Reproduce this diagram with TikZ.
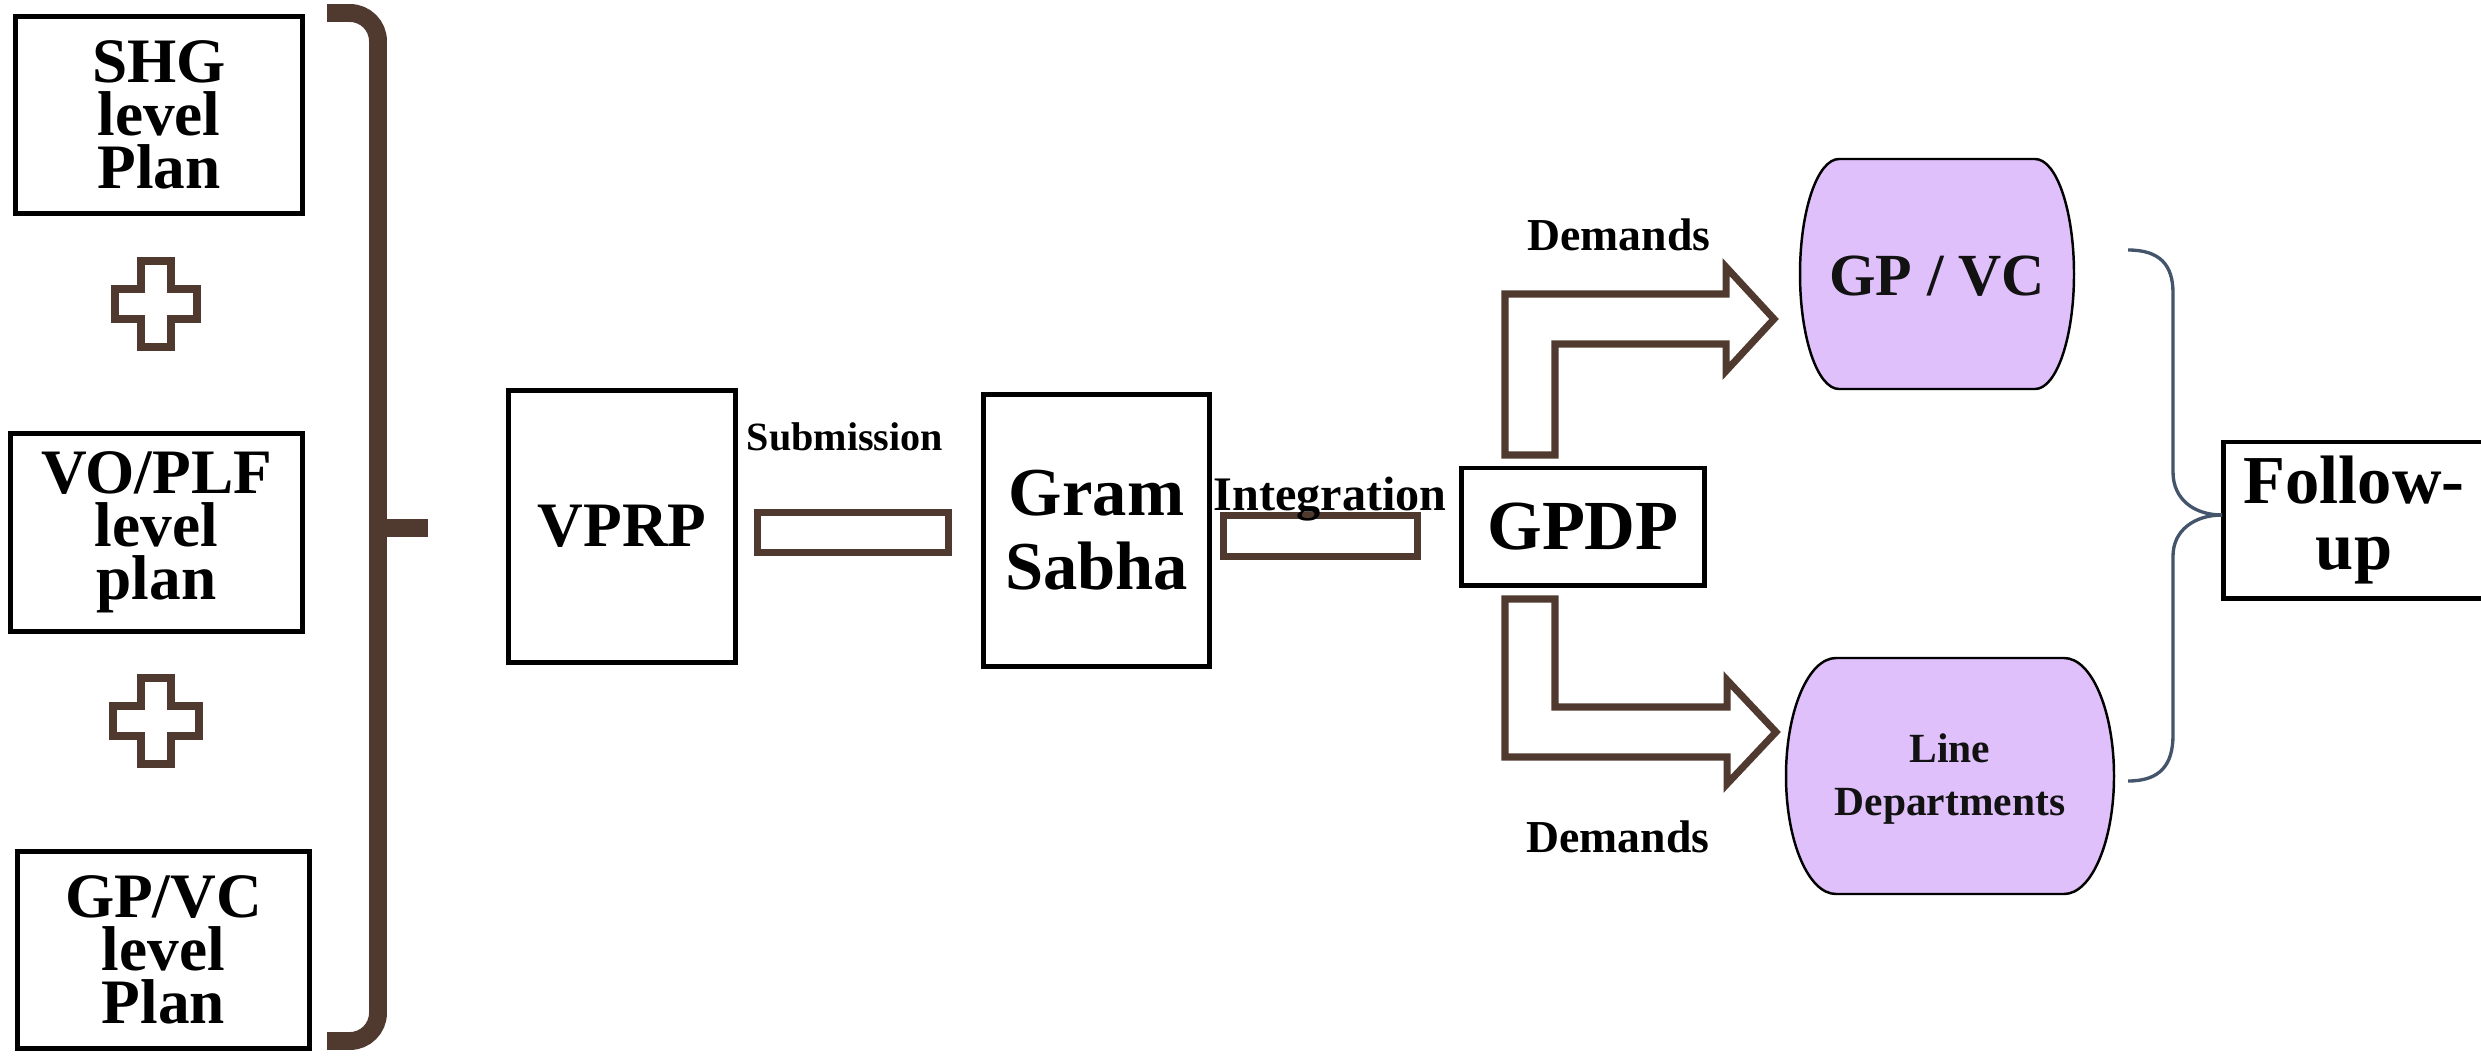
\documentclass[tikz,border=0pt]{standalone}
\usepackage{fontspec}
\setmainfont{Liberation Serif}
\usepackage{tikz}

\definecolor{planbrown}{RGB}{80,58,47}
\definecolor{demandlilac}{RGB}{223,192,250}
\definecolor{braceslate}{RGB}{68,84,106}

\begin{document}
\begin{tikzpicture}[x=0.01cm,y=-0.01cm,
        bar/.style={draw=planbrown,line width=2pt,inner sep=0pt},
        label/.style={anchor=base,inner sep=0pt,font=\bfseries\fontsize{13}{15}\selectfont},
        blockarrow/.style={draw=planbrown,line width=2pt,fill=white}]
            \useasboundingbox (0,0) rectangle (2481,1057);

            \begin{scope}[every node/.style={draw=black,line width=1.4pt,align=center,inner sep=0pt}]
                \node[minimum width=2.86cm,minimum height=1.96cm,font=\bfseries\fontsize{18}{15}\selectfont] (shg) at (159,115) {SHG\\level\\Plan};
                \node[minimum width=2.91cm,minimum height=1.97cm,font=\bfseries\fontsize{18}{15}\selectfont] (vo) at (156.5,532.5) {VO/PLF\\level\\plan};
                \node[minimum width=2.91cm,minimum height=1.96cm,font=\bfseries\fontsize{18}{15}\selectfont] (gplevel) at (163.5,950) {GP/VC\\level\\Plan};

                \node[minimum width=2.26cm,minimum height=2.71cm,font=\bfseries\fontsize{18}{20}\selectfont] (vprp) at (622,526.5) {VPRP};
                \node[minimum width=2.25cm,minimum height=2.71cm,font=\bfseries\fontsize{19.5}{21}\selectfont] (gram) at (1096.5,530.5) {Gram\\Sabha};
                \node[minimum width=2.42cm,minimum height=1.17cm,font=\bfseries\fontsize{20}{22}\selectfont] (gpdp) at (1583,526.5) {GPDP};
                \node[minimum width=2.60cm,minimum height=1.56cm,font=\bfseries\fontsize{19.5}{18.8}\selectfont] (follow) at (2354,520) {Follow-\\up};
            \end{scope}

            % plus signs between the plans
            \draw[bar] (141,261) -- (171,261) -- (171,289) -- (197,289) -- (197,319) -- (171,319) -- (171,347) -- (141,347) -- (141,319) -- (115,319) -- (115,289) -- (141,289) -- cycle;
            \draw[bar] (141,678) -- (171,678) -- (171,706) -- (199,706) -- (199,736) -- (171,736) -- (171,764) -- (141,764) -- (141,736) -- (113,736) -- (113,706) -- (141,706) -- cycle;

            % big brace
            \draw[planbrown,line width=5.1pt,rounded corners=8] (327,13) -- (378,13) -- (378,528);
            \draw[planbrown,line width=5.1pt] (378,528) -- (428,528);
            \draw[planbrown,line width=5.1pt,rounded corners=8] (378,528) -- (378,1041) -- (327,1041);

            % bars between the boxes
            \node[bar,minimum width=1.91cm,minimum height=0.40cm] (subbar) at (853,532.5) {};
            \node[bar,minimum width=1.94cm,minimum height=0.41cm] (intbar) at (1320.5,536) {};
            \node[label,font=\bfseries\fontsize{11.4}{13}\selectfont] (sublabel) at (845,450) {Submission};
            \node[label,font=\bfseries\fontsize{13.7}{15}\selectfont] (intlabel) at (1330,510) {Integration};

            % bent arrows out of GPDP
            \draw[blockarrow] (1505,455) -- (1505,294) -- (1726,294) -- (1726,267) -- (1774,319) -- (1726,371) -- (1726,344) -- (1555,344) -- (1555,455) -- cycle;
            \draw[blockarrow] (1505,599) -- (1505,757) -- (1727,757) -- (1727,784) -- (1776,732) -- (1727,680) -- (1727,707) -- (1555,707) -- (1555,599) -- cycle;
            \node[label] (demup) at (1619,250) {Demands};
            \node[label] (demdown) at (1618,852) {Demands};

            % demand targets
            \draw[fill=demandlilac,draw=black,line width=0.7pt] (1839,159) -- (2035,159) .. controls (2056.5,159) and (2074,210.5) .. (2074,274) .. controls (2074,337.5) and (2056.5,389) .. (2035,389) -- (1839,389) .. controls (1817.5,389) and (1800,337.5) .. (1800,274) .. controls (1800,210.5) and (1817.5,159) .. (1839,159) -- cycle;
            \draw[fill=demandlilac,draw=black,line width=0.7pt] (1836,658) -- (2064,658) .. controls (2091.6,658) and (2114,710.8) .. (2114,776) .. controls (2114,841.2) and (2091.6,894) .. (2064,894) -- (1836,894) .. controls (1808.4,894) and (1786,841.2) .. (1786,776) .. controls (1786,710.8) and (1808.4,658) .. (1836,658) -- cycle;
            \node[text=black!93,font=\bfseries\fontsize{17}{19}\selectfont,inner sep=0pt] (gpvc) at (1937,276) {GP / VC};
            \node[text=black!93,align=center,font=\bfseries\fontsize{11.8}{14.8}\selectfont,inner sep=0pt] (linedept) at (1950,779) {Line\\Departments};

            % follow-up brace
            \draw[braceslate,line width=0.95pt] (2128,250) .. controls (2160,250) and (2173,265) .. (2173,293) -- (2173,472) .. controls (2173,500) and (2195,515) .. (2222,515);
            \draw[braceslate,line width=0.95pt] (2222,515) .. controls (2195,515) and (2173,530) .. (2173,556) -- (2173,735) .. controls (2173,765) and (2160,781) .. (2128,781);
        \end{tikzpicture}
\end{document}
